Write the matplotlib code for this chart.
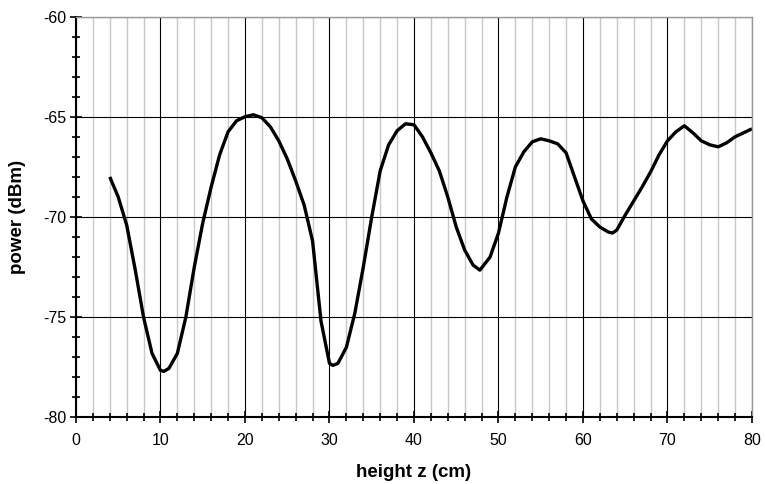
import matplotlib
matplotlib.use("Agg")
import matplotlib.pyplot as plt
from matplotlib.ticker import MultipleLocator

plt.rcParams["font.family"] = ["Liberation Sans", "DejaVu Sans"]
plt.rcParams["axes.unicode_minus"] = False

# measured field strength vs. antenna height
height_cm = [4, 5, 6, 7, 8, 9, 10, 10.4, 11, 12, 13, 14, 15, 16, 17, 18, 19, 20, 21, 22,
             23, 24, 25, 26, 27, 28, 29, 30, 30.4, 31, 32, 33, 34, 35, 36, 37, 38, 39, 40,
             41, 42, 43, 44, 45, 46, 47, 47.8, 49, 50, 51, 52, 53, 54, 55, 56, 57, 58, 59,
             60, 61, 62, 63, 63.5, 64, 65, 66, 67, 68, 69, 70, 71, 72, 73, 74, 75, 76, 77,
             78, 79, 80]
power_dbm = [-68.0, -69.0, -70.4, -72.6, -75.0, -76.8, -77.65, -77.7, -77.55, -76.8, -75.0,
             -72.5, -70.3, -68.5, -66.9, -65.75, -65.2, -65.0, -64.9, -65.05, -65.5, -66.2,
             -67.1, -68.2, -69.4, -71.2, -75.2, -77.3, -77.4, -77.3, -76.5, -74.8, -72.5,
             -70.0, -67.7, -66.4, -65.7, -65.35, -65.4, -66.0, -66.8, -67.7, -69.0, -70.5,
             -71.65, -72.4, -72.65, -72.0, -70.8, -69.0, -67.5, -66.75, -66.25, -66.1, -66.2,
             -66.35, -66.8, -68.0, -69.2, -70.1, -70.5, -70.75, -70.8, -70.65, -69.9, -69.2,
             -68.5, -67.75, -66.9, -66.2, -65.75, -65.45, -65.8, -66.2, -66.4, -66.5, -66.3,
             -66.0, -65.8, -65.6]

fig = plt.figure(figsize=(7.65, 4.84), dpi=100)
ax = fig.add_axes([0.0993, 0.1374, 0.8837, 0.8285])

ax.set_xlim(0, 80)
ax.set_ylim(-80, -60)
ax.xaxis.set_major_locator(MultipleLocator(10))
ax.xaxis.set_minor_locator(MultipleLocator(2))
ax.yaxis.set_major_locator(MultipleLocator(5))
ax.yaxis.set_minor_locator(MultipleLocator(1))

ax.grid(which="minor", axis="x", color="#c8c8c8", linewidth=1.0)
ax.grid(which="major", axis="x", color="black", linewidth=0.8)
ax.grid(which="major", axis="y", color="black", linewidth=0.8)
ax.set_axisbelow(True)

ax.plot(height_cm, power_dbm, color="black", linewidth=2.4,
        solid_capstyle="butt", solid_joinstyle="round")

for side in ("top", "right"):
    ax.spines[side].set_color("#999999")
    ax.spines[side].set_linewidth(1.0)
for side in ("left", "bottom"):
    ax.spines[side].set_color("black")
    ax.spines[side].set_linewidth(1.5)

ax.tick_params(which="both", direction="inout", width=1.2, colors="black", labelsize=11.5)
ax.tick_params(which="major", length=8)
ax.tick_params(which="minor", length=6)
ax.tick_params(axis="x", which="major", pad=7)
ax.tick_params(axis="y", which="major", pad=3)

ax.set_xlabel("height z (cm)", fontsize=13.5, fontweight="bold", labelpad=12)
ax.set_ylabel("power (dBm)", fontsize=13.5, fontweight="bold", labelpad=12)

fig.savefig("out.png", dpi=100)
